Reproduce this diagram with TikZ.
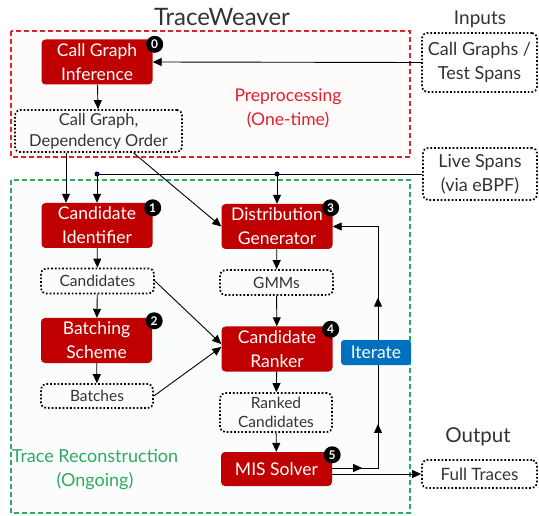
\documentclass[tikz,border=0pt]{standalone}
\usepackage{fontspec}
\setmainfont{Lato}
\usetikzlibrary{arrows.meta,decorations.markings}
\definecolor{boxred}{HTML}{C00000}
\definecolor{prered}{HTML}{E0202C}
\definecolor{recgreen}{HTML}{2EAA62}
\definecolor{itblue}{HTML}{0070C0}
\definecolor{inkgray}{HTML}{333333}
\tikzset{
	stage/.style={fill=boxred, rounded corners=4pt, text=white, align=center,
		font=\fontsize{17.5}{24}\selectfont, minimum width=111pt, minimum height=45pt, inner sep=0},
	databox/.style={draw, dotted, line width=1.7pt, rounded corners=5pt, align=center,
		font=\fontsize{15.5}{19}\selectfont, text=inkgray, minimum width=113pt, minimum height=25pt, inner sep=0},
	badge/.style={circle, fill=black, text=white, inner sep=0, minimum size=17pt,
		font=\bfseries\fontsize{12}{12}\selectfont},
	region/.style={dashed, dash pattern=on 5pt off 3pt, line width=1.1pt},
	flow/.style={-{Triangle[length=9pt,width=8pt]}, line width=0.9pt},
	loopmarks/.style={decoration={markings,
		mark=at position 0.09 with {\arrow{Triangle[length=9pt,width=8pt]}},
		mark=at position 0.27 with {\arrow{Triangle[length=9pt,width=8pt]}},
		mark=at position 0.65 with {\arrow{Triangle[length=9pt,width=8pt]}}},
		postaction=decorate},
}
\begin{document}
\begin{tikzpicture}[x=1pt,y=-1pt]
	\useasboundingbox (0,0) rectangle (539,516);
	% regions
	\draw[prered, region, fill=prered!2] (11,31) rectangle (410,157);
	\draw[recgreen, region, fill=recgreen!2] (11,180) rectangle (410,513);
	% headings
	\node[font=\fontsize{24}{24}\selectfont, text=inkgray] (title) at (222,17) {TraceWeaver};
	\node[font=\fontsize{19}{19}\selectfont, text=inkgray] (inputs) at (480,19) {Inputs};
	\node[font=\fontsize{20.5}{20.5}\selectfont, text=inkgray] (output) at (478,437) {Output};
	\node[prered, align=center, font=\fontsize{17.5}{24}\selectfont] (pre) at (288,108) {Preprocessing\\(One-time)};
	\node[recgreen, align=center, font=\fontsize{18}{24}\selectfont] (rec) at (95,470) {Trace Reconstruction\\(Ongoing)};
	% stages
	\node[stage] (cgi) at (97,62) {Call Graph\\Inference};
	\node[stage] (cid) at (97,225.5) {Candidate\\Identifier};
	\node[stage] (bat) at (96.5,340.5) {Batching\\Scheme};
	\node[stage] (dg) at (277,226.5) {Distribution\\Generator};
	\node[stage] (cr) at (277,349) {Candidate\\Ranker};
	\node[stage, minimum height=34pt] (mis) at (276.5,469) {MIS Solver};
	% data
	\node[databox, minimum width=167pt, minimum height=42pt, font=\fontsize{16.5}{21}\selectfont] (dep) at (98.5,131) {Call Graph,\\Dependency Order};
	\node[databox, minimum width=115pt, minimum height=59pt, font=\fontsize{18}{24}\selectfont] (cgin) at (479.5,62.5) {Call Graphs /\\Test Spans};
	\node[databox, minimum width=114pt, minimum height=52pt, font=\fontsize{18}{24}\selectfont] (live) at (480,174) {Live Spans\\(via eBPF)};
	\node[databox] (cand) at (97.5,281) {Candidates};
	\node[databox, minimum width=112pt, minimum height=24pt] (batches) at (97,396) {Batches};
	\node[databox] (gmm) at (276.5,282.5) {GMMs};
	\node[databox, minimum width=112pt, minimum height=39pt] (rank) at (276,412.5) {Ranked\\Candidates};
	\node[databox, minimum width=115pt, minimum height=28pt, font=\fontsize{17}{18}\selectfont] (full) at (479.5,474) {Full Traces};
	% badges
	\node[badge] (b0) at ([xshift=2pt,yshift=-5pt]cgi.north east) {0};
	\node[badge] (b1) at ([xshift=0pt,yshift=-5pt]cid.north east) {1};
	\node[badge] (b2) at ([xshift=2pt,yshift=-3pt]bat.north east) {2};
	\node[badge] (b3) at ([xshift=-2pt,yshift=-4pt]dg.north east) {3};
	\node[badge] (b4) at ([xshift=-2pt,yshift=-3pt]cr.north east) {4};
	\node[badge] (b5) at ([xshift=0pt,yshift=-3pt]mis.north east) {5};
	% connectors
	\draw[flow] (cgin.west) -- (cgi.east);
	\draw[flow] (cgi) -- (dep);
	\draw[flow] ([xshift=-31pt]cid.north |- dep.south) -- ([xshift=-31pt]cid.north);
	\draw[flow] ([xshift=35pt]dep.south) -- (dg.west);
	\coordinate (j1) at (cid.north |- live.west);
	\coordinate (j2) at (dg.north |- live.west);
	\draw[line width=0.9pt] (live.west) -- (j1);
	\draw[flow] (j1) -- (cid.north);
	\draw[flow] (j2) -- (dg.north);
	\fill[black!80!blue] (j1) circle (2.5pt) (j2) circle (2.5pt);
	\draw[flow] (cid) -- (cand);
	\draw[flow] (cand) -- (bat);
	\draw[flow] (bat) -- (batches);
	\draw[flow] (cand.east) -- ([yshift=5pt]cr.west);
	\draw[flow] (batches.east) -- ([yshift=2pt]cr.west);
	\draw[flow] (dg) -- (gmm);
	\draw[flow] (gmm) -- (cr);
	\draw[flow] (cr) -- (rank);
	\draw[flow] (rank) -- (mis);
	\coordinate (loop) at (378,0);
	\draw[flow, loopmarks] ([yshift=1pt]mis.east) -| (loop |- dg.east) -- (dg.east);
	\draw[flow] ([yshift=-5pt]mis.east) -- (full.west);
	\node[fill=itblue, text=white, rounded corners=3pt, minimum width=70pt, minimum height=25pt,
		inner sep=0, font=\fontsize{17.5}{17.5}\selectfont] (iter) at (376,352.5) {Iterate};
\end{tikzpicture}
\end{document}
